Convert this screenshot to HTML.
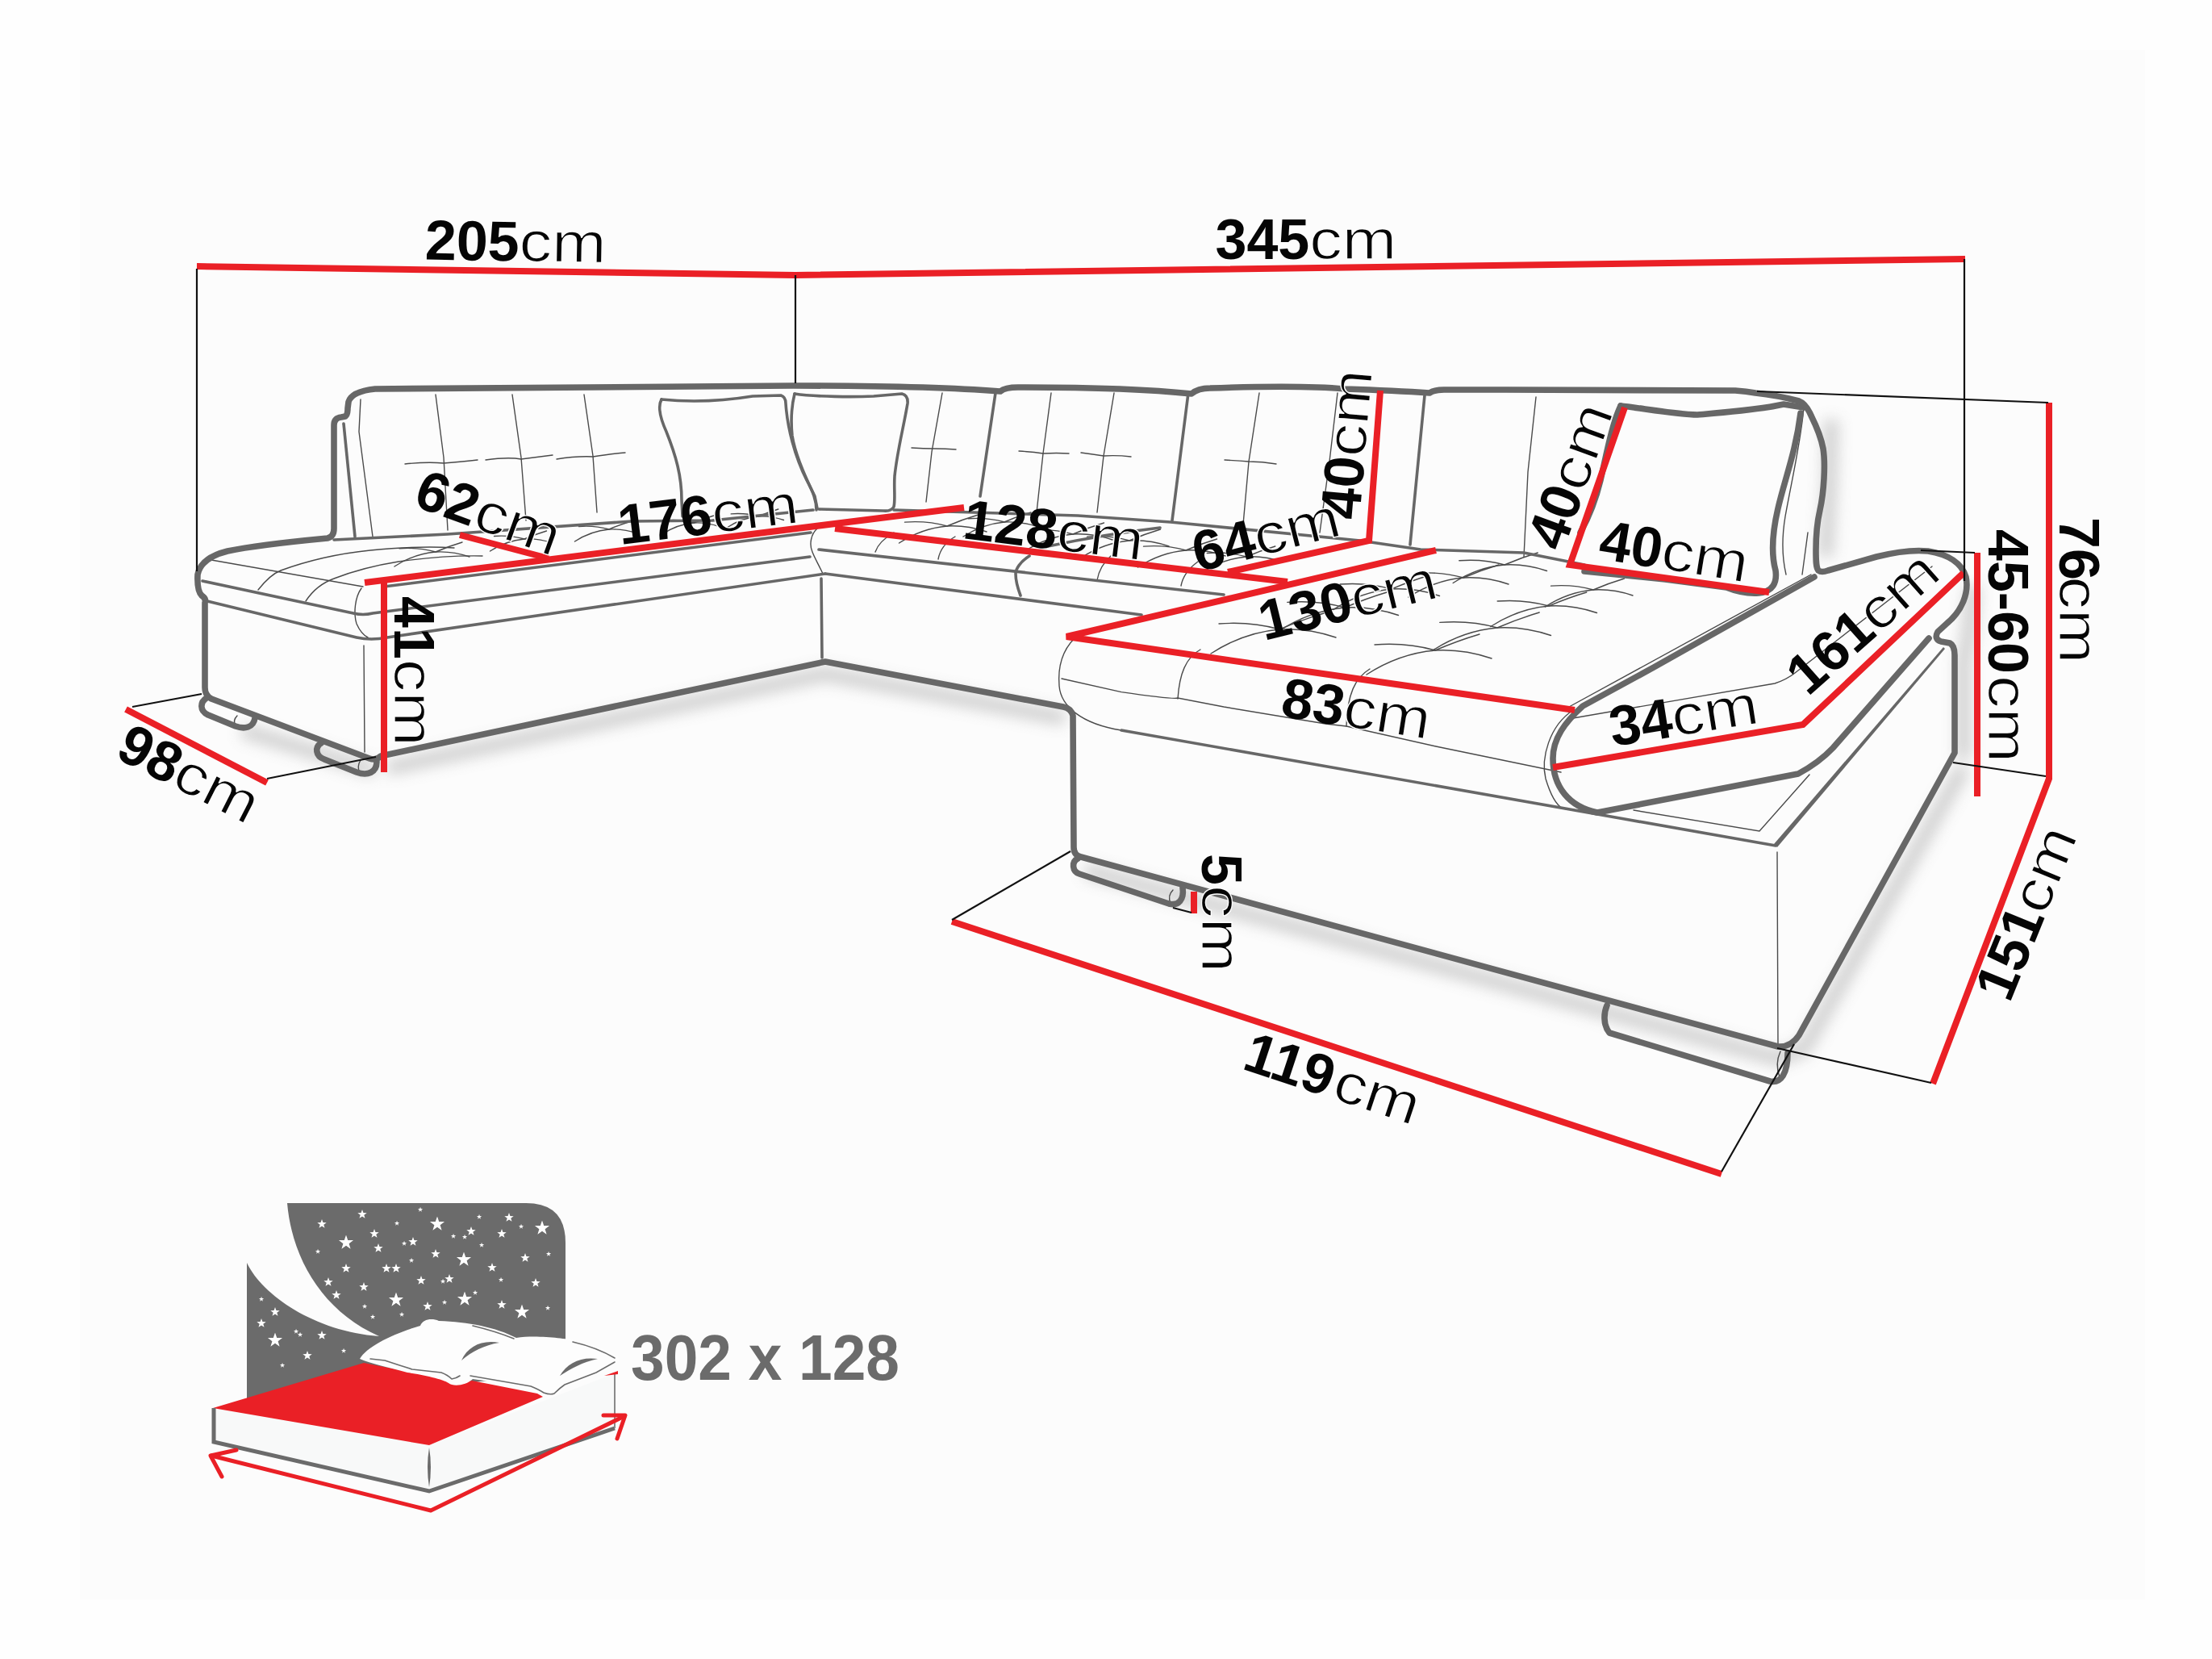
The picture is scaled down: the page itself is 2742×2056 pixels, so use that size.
<!DOCTYPE html>
<html><head><meta charset="utf-8">
<style>
html,body{margin:0;padding:0;background:#fefefe;}
svg{display:block;}
.b{font-family:"Liberation Sans",sans-serif;font-weight:bold;font-size:70px;fill:#050505;}
.r{font-family:"Liberation Sans",sans-serif;font-weight:normal;font-size:70px;fill:#050505;stroke:#fdfdfd;stroke-width:1.3px;}
</style></head>
<body>
<svg width="2742" height="2056" viewBox="0 0 2742 2056" xmlns="http://www.w3.org/2000/svg">
<defs>
<filter id="blur" x="-20%" y="-20%" width="140%" height="140%"><feGaussianBlur stdDeviation="9"/></filter>
<symbol id="st" viewBox="-10 -10 20 20"><path d="M0,-10 L2.35,-3.24 L9.51,-3.09 L3.8,1.24 L5.88,8.09 L0,4 L-5.88,8.09 L-3.8,1.24 L-9.51,-3.09 L-2.35,-3.24Z" fill="#fff"/></symbol>
</defs>
<rect x="0" y="0" width="2742" height="2056" fill="#fefefe"/>
<rect x="99" y="62" width="2560" height="1920" fill="#fcfcfc"/>
<g id="shadows" fill="none" stroke="#9a9a9a" stroke-width="18" opacity="0.45" filter="url(#blur)">
<path d="M480,952 L1023,835 L1320,890"/>
<path d="M1345,1078 L2204,1312 L2236,1300 L2434,951"/>
<path d="M2270,520 L2268,600 L2263,690 M2446,725 L2440,790 L2434,820 L2434,940"/>
<path d="M300,905 L465,955"/>
</g>
<g id="thin" fill="none" stroke="#4a4a4a" stroke-width="1.4" stroke-linecap="round">
<path d="M447,495 L445,535 L462,665"/>
<path d="M540,489 L550,567 L555,657"/>
<path d="M635,489 L646,567 L652,645"/>
<path d="M724,489 L735,565 L740,635"/>
<path d="M502,575 Q530,572 550,574 Q575,572 592,570"/>
<path d="M602,570 Q630,566 646,569 Q670,566 685,564"/>
<path d="M690,569 Q715,565 735,566 Q760,562 775,561"/>
<path d="M262,694 L450,727"/>
<path d="M1168,487 L1155,560 L1148,622"/>
<path d="M1303,487 L1293,562 L1285,635"/>
<path d="M1130,555 Q1145,556 1158,556 Q1172,556 1185,557"/>
<path d="M1263,559 Q1280,560 1293,562 Q1310,561 1325,562"/>
<path d="M1381,487 L1368,565 L1360,635"/>
<path d="M1561,487 L1548,572 L1541,650"/>
<path d="M1658,487 L1648,572 L1636,660"/>
<path d="M1340,561 Q1355,563 1368,565 Q1385,564 1402,566"/>
<path d="M1518,570 Q1535,571 1548,572 Q1565,572 1582,575"/>
<path d="M1904,492 L1894,585 L1889,690"/>
<path d="M1332,791 C1318,805 1311,825 1313,850 C1315,875 1340,897 1390,905"/>
<path d="M1316,841 L1390,857.6 Q1455,867 1460,865 L1517,876 L1643,897 L1669,900 L1780,925 L1935,957"/>
<path d="M1488,805 C1470,815 1462,835 1460,866"/>
<path d="M1698,829 C1680,840 1670,860 1669,900"/>
<path d="M2203,1056 L2204,1295"/>
<path d="M451,800 L452,932"/>
<path d="M294,887 Q288,893 292,900"/>
<path d="M447,942 Q442,950 446,958"/>
<path d="M1454,1103 Q1447,1110 1451,1119"/>
<path d="M2207,1303 Q2200,1318 2206,1335"/>
<path d="M2245,712 L1945,876"/>
<path d="M1950,890 L2200,847 Q2215,842 2225,834 L2395,702"/>
<path d="M2025,1004 L2181,1030 L2243,960"/>
<path d="M1950,880 C1920,900 1910,940 1916,965 C1922,985 1930,998 1937,1002 L1982,1007"/>
<path d="M2236,505 C2232,550 2220,600 2213,640 C2208,670 2210,695 2214,712"/>
<path d="M2241,660 L2234,712"/>
<path d="M320,731 Q335,712 348,707 Q400,688 459,682 Q520,676 563,679"/>
<path d="M379,745 Q392,725 414,717 Q450,703 494,696 Q550,688 598,689"/>
<path d="M448,729 C440,740 438,760 442,773 C446,782 450,787 456,790"/>
<path d="M1108,660 C1096,667 1088,675 1085,684"/>
<path d="M1184,665 C1172,672 1165,682 1163,693"/>
<path d="M1377,689 C1368,697 1362,707 1360,719"/>
<path d="M1485,696 C1474,704 1466,715 1464,726"/>
<path d="M1013,655 C1005,662 1003,675 1007,684 C1010,692 1015,700 1020,711"/>
<path d="M1511.0,773.0 Q1551.0,770.0 1586,780 Q1621.0,778.0 1656.0,790.0"/><path d="M1501.0,810.0 Q1541.0,784.0 1586,780 Q1614.0,768.0 1641.0,760.0"/>
<path d="M1595.8,746.4 Q1633.8,743.5 1667,753 Q1700.2,751.1 1733.5,762.5"/><path d="M1586.2,781.5 Q1624.2,756.8 1667,753 Q1693.6,741.6 1719.2,734.0"/>
<path d="M1661.2,724.0 Q1695.2,721.5 1725,730 Q1754.8,728.3 1784.5,738.5"/><path d="M1652.8,755.5 Q1686.8,733.4 1725,730 Q1748.8,719.8 1771.8,713.0"/>
<path d="M1754.0,710.4 Q1786.0,708.0 1814,716 Q1842.0,714.4 1870.0,724.0"/><path d="M1746.0,740.0 Q1778.0,719.2 1814,716 Q1836.4,706.4 1858.0,700.0"/>
<path d="M1808.8,694.8 Q1838.8,692.5 1865,700 Q1891.2,698.5 1917.5,707.5"/><path d="M1801.2,722.5 Q1831.2,703.0 1865,700 Q1886.0,691.0 1906.2,685.0"/>
<path d="M1704.0,799.0 Q1744.0,796.0 1779,806 Q1814.0,804.0 1849.0,816.0"/><path d="M1694.0,836.0 Q1734.0,810.0 1779,806 Q1807.0,794.0 1834.0,786.0"/>
<path d="M1784.8,771.4 Q1822.8,768.5 1856,778 Q1889.2,776.1 1922.5,787.5"/><path d="M1775.2,806.5 Q1813.2,781.8 1856,778 Q1882.6,766.6 1908.2,759.0"/>
<path d="M1856.2,745.0 Q1890.2,742.5 1920,751 Q1949.8,749.3 1979.5,759.5"/><path d="M1847.8,776.5 Q1881.8,754.4 1920,751 Q1943.8,740.8 1966.8,734.0"/>
<path d="M1922.5,726.1 Q1950.5,724.0 1975,731 Q1999.5,729.6 2024.0,738.0"/><path d="M1915.5,752.0 Q1943.5,733.8 1975,731 Q1994.6,722.6 2013.5,717.0"/>
<path d="M1121.5,647.1 Q1149.5,645.0 1174,652 Q1198.5,650.6 1223.0,659.0"/><path d="M1114.5,673.0 Q1142.5,654.8 1174,652 Q1193.6,643.6 1212.5,638.0"/>
<path d="M1200.0,642.8 Q1224.0,641.0 1245,647 Q1266.0,645.8 1287.0,653.0"/><path d="M1194.0,665.0 Q1218.0,649.4 1245,647 Q1261.8,639.8 1278.0,635.0"/>
<path d="M1277.5,657.1 Q1305.5,655.0 1330,662 Q1354.5,660.6 1379.0,669.0"/><path d="M1270.5,683.0 Q1298.5,664.8 1330,662 Q1349.6,653.6 1368.5,648.0"/>
<path d="M1347.5,665.1 Q1375.5,663.0 1400,670 Q1424.5,668.6 1449.0,677.0"/><path d="M1340.5,691.0 Q1368.5,672.8 1400,670 Q1419.6,661.6 1438.5,656.0"/>
<path d="M1417.5,677.1 Q1445.5,675.0 1470,682 Q1494.5,680.6 1519.0,689.0"/><path d="M1410.5,703.0 Q1438.5,684.8 1470,682 Q1489.6,673.6 1508.5,668.0"/>
<path d="M1496.2,685.5 Q1522.2,683.5 1545,690 Q1567.8,688.7 1590.5,696.5"/><path d="M1489.8,709.5 Q1515.8,692.6 1545,690 Q1563.2,682.2 1580.8,677.0"/>
<path d="M495.0,679.8 Q519.0,678.0 540,684 Q561.0,682.8 582.0,690.0"/><path d="M489.0,702.0 Q513.0,686.4 540,684 Q556.8,676.8 573.0,672.0"/>
<path d="M612.5,664.5 Q632.5,663.0 650,668 Q667.5,667.0 685.0,673.0"/><path d="M607.5,683.0 Q627.5,670.0 650,668 Q664.0,662.0 677.5,658.0"/>
<path d="M717.5,652.5 Q737.5,651.0 755,656 Q772.5,655.0 790.0,661.0"/><path d="M712.5,671.0 Q732.5,658.0 755,656 Q769.0,650.0 782.5,646.0"/>
<path d="M826.2,644.9 Q844.2,643.5 860,648 Q875.8,647.1 891.5,652.5"/><path d="M821.8,661.5 Q839.8,649.8 860,648 Q872.6,642.6 884.8,639.0"/>
<path d="M906.2,636.9 Q924.2,635.5 940,640 Q955.8,639.1 971.5,644.5"/><path d="M901.8,653.5 Q919.8,641.8 940,640 Q952.6,634.6 964.8,631.0"/>
</g>
<g id="med" fill="none" stroke="#676767" stroke-width="3.6" stroke-linecap="round" stroke-linejoin="round">
<path d="M251,720 L438,760 Q450,763 462,760 L1004,690"/>
<path d="M257,745 L442,790 Q460,794 480,790 L1023,711"/>
<path d="M1015,681 L1517,737"/>
<path d="M1023,711 L1415,762"/>
<path d="M1018,717 L1019,815"/>
<path d="M476,727 L1005,660"/>
<path d="M820,495 C850,498 890,498 933,491 L968,490 Q974,492 974,500 C976,530 985,565 1000,595 C1008,610 1012,620 1012,632"/>
<path d="M820,495 C816,502 817,515 826,535 C838,565 845,590 845,620 L846,640"/>
<path d="M985,488 C1010,492 1060,492 1083,491 L1118,488 Q1126,490 1125,500 C1120,530 1112,560 1109,590 C1108,605 1110,620 1108,628 Q1105,634 1095,633 L1015,631"/>
<path d="M985,488 C982,500 980,520 982,540 C986,565 1000,595 1010,615 L1013,630"/>
<path d="M1390,905 L2201,1048"/>
<path d="M1234,487 L1215,615"/>
<path d="M1473,487 L1453,645"/>
<path d="M1766,490 L1748,675"/>
<path d="M426,525 L440,665"/>
<path d="M414,669 L555,662 L783,646 L883,645 L1008,632"/>
<path d="M1108,632 L1336,639 L1451,647 L1686,670 L1761,681 L1889,685 L1964,700"/>
<path d="M1299,677 Q1370,662 1438,654"/>
<path d="M1276,689 C1265,696 1259,705 1259,711 C1259,722 1262,730 1265,738"/>
</g>
<g id="thick" fill="none" stroke="#676767" stroke-width="7.6" stroke-linecap="round" stroke-linejoin="round">
<path d="M2009,503 C2030,505 2080,514 2104,514 C2140,511 2180,508 2211,501 L2236,505"/>
<path d="M2232,512 C2226,560 2212,595 2204,630 C2197,660 2195,685 2201,707 C2203,722 2198,733 2180,735 C2165,736 2150,732 2140,728 L2064,718 L1964,708"/>
<path d="M2009,503 C1998,525 1990,570 1984,595 C1978,620 1970,640 1959,660"/>
<path d="M2249,715 L2050,827 L1962,875 C1940,895 1925,915 1925,940 C1925,975 1945,1000 1980,1007 L2229,959 Q2255,945 2272,927 L2391,791"/>
<path d="M245,712 C248,697 262,688 282,683 C320,675 385,669 406,667 Q414,665 414,655 L414,527 Q414,518 423,517 L428,516 Q431,514 431,506 L432,498 Q436,485 465,482 L983,478 Q1150,478 1240,485 Q1246,480 1262,480 Q1400,480 1477,488 Q1485,481 1500,481 Q1613,477 1667,482 Q1730,484 1772,487 Q1778,483 1790,483 L1866,483 L2151,484 Q2165,485 2176,487 C2195,489 2215,493 2230,497 C2238,500 2242,508 2245,515 C2250,525 2257,540 2260,556 C2263,575 2261,610 2256,632 C2253,645 2251,665 2251,682 C2251,695 2251,703 2254,707 Q2258,710 2266,707 L2326,690 C2350,684 2370,681 2390,683 C2415,687 2432,698 2437,715 C2441,735 2432,757 2414,772 L2402,783 Q2397,792 2406,795 L2417,797 Q2423,800 2423,812 L2423,933 L2230,1283 Q2220,1298 2204,1297 L1340,1062 Q1331,1060 1331,1050 L1330,887 Q1328,878 1318,876 L1023,820 L472,937 Q466,943 458,940 L262,866 Q254,862 254,852 L254,747 Q256,742 250,738 Q244,732 245,712 Z"/>
<path d="M256,865 C248,870 247,881 258,886 L292,900 C303,904 314,902 316,890"/>
<path d="M398,921 C390,926 391,937 402,941 L442,957 C456,962 467,957 467,944"/>
<path d="M1336,1064 C1328,1068 1329,1080 1338,1083 L1449,1120 C1461,1123 1468,1115 1466,1100"/>
<path d="M1992,1246 C1988,1255 1987,1270 1995,1280 L2194,1340 C2208,1343 2216,1330 2216,1305"/>
</g>
<path d="M2409,802 L2411,804 L2203,1050 L2199,1046 Z" fill="#676767"/>
<g id="red" fill="none" stroke="#ea2026" stroke-width="8" stroke-linejoin="miter">
<path d="M244,330 L986,341 L2436,321"/>
<path d="M476,717 L476,957"/>
<path d="M452,722 L1195,629"/>
<path d="M570,663 L680,692"/>
<path d="M1035,655 L1596,721"/>
<path d="M1522,709 L1697,670 L1711,484"/>
<path d="M1780,682 L1322,789 L1952,880"/>
<path d="M2014,505 L1946,700 L2193,734"/>
<path d="M1925,951 L2235,898 L2434,710"/>
<path d="M2451,685 L2451,987"/>
<path d="M2540,499 L2540,965 L2396,1343"/>
<path d="M1180,1142 L2134,1455"/>
<path d="M1480,1105 L1480,1132"/>
<path d="M156,879 L331,970"/>
</g>
<g id="blk" fill="none" stroke="#111" stroke-width="2.2">
<path d="M244,333 L244,708"/>
<path d="M986,341 L986,475"/>
<path d="M2435,321 L2435,720"/>
<path d="M2178,485 L2539,499"/>
<path d="M2381,682 L2448,685"/>
<path d="M2421,945 L2536,962"/>
<path d="M2203,1299 L2394,1342"/>
<path d="M2224,1294 L2134,1452"/>
<path d="M1180,1140 L1327,1055"/>
<path d="M1454,1125 L1477,1131"/>
<path d="M164,876 L250,860"/>
<path d="M331,965 L466,938"/>
</g>
<g id="txt">
<g transform="translate(526.5,321.5) rotate(1.0)"><text class="b" x="0" y="0">205</text><text class="r" x="116.7" y="0" textLength="108" lengthAdjust="spacingAndGlyphs">cm</text></g>
<g transform="translate(1506.5,321.0) rotate(0.0)"><text class="b" x="0" y="0">345</text><text class="r" x="116.7" y="0" textLength="108" lengthAdjust="spacingAndGlyphs">cm</text></g>
<g transform="translate(510.4,626.3) rotate(20.0)"><text class="b" x="0" y="0">62</text><text class="r" x="77.8" y="0" textLength="108" lengthAdjust="spacingAndGlyphs">cm</text></g>
<g transform="translate(769,675) rotate(-7.0)"><text class="b" x="0" y="0">176</text><text class="r" x="116.7" y="0" textLength="108" lengthAdjust="spacingAndGlyphs">cm</text></g>
<g transform="translate(1192,667) rotate(7.0)"><text class="b" x="0" y="0">128</text><text class="r" x="116.7" y="0" textLength="108" lengthAdjust="spacingAndGlyphs">cm</text></g>
<g transform="translate(1485,709) rotate(-14.3)"><text class="b" x="0" y="0">64</text><text class="r" x="77.8" y="0" textLength="108" lengthAdjust="spacingAndGlyphs">cm</text></g>
<g transform="translate(1685,645) rotate(-85.0)"><text class="b" x="0" y="0">40</text><text class="r" x="77.8" y="0" textLength="108" lengthAdjust="spacingAndGlyphs">cm</text></g>
<g transform="translate(1937,685) rotate(-70.0)"><text class="b" x="0" y="0">40</text><text class="r" x="77.8" y="0" textLength="108" lengthAdjust="spacingAndGlyphs">cm</text></g>
<g transform="translate(1980,692) rotate(9.3)"><text class="b" x="0" y="0">40</text><text class="r" x="77.8" y="0" textLength="108" lengthAdjust="spacingAndGlyphs">cm</text></g>
<g transform="translate(1567,794) rotate(-13.8)"><text class="b" x="0" y="0">130</text><text class="r" x="116.7" y="0" textLength="108" lengthAdjust="spacingAndGlyphs">cm</text></g>
<g transform="translate(1586,887.5) rotate(8.9)"><text class="b" x="0" y="0">83</text><text class="r" x="77.8" y="0" textLength="108" lengthAdjust="spacingAndGlyphs">cm</text></g>
<g transform="translate(1999,925) rotate(-9.0)"><text class="b" x="0" y="0">34</text><text class="r" x="77.8" y="0" textLength="108" lengthAdjust="spacingAndGlyphs">cm</text></g>
<g transform="translate(2241,864) rotate(-41.7)"><text class="b" x="0" y="0">161</text><text class="r" x="116.7" y="0" textLength="108" lengthAdjust="spacingAndGlyphs">cm</text></g>
<g transform="translate(2464.6,656) rotate(90)"><text class="b" x="0" y="0">45-60</text><text class="r" x="181.0" y="0" textLength="108" lengthAdjust="spacingAndGlyphs">cm</text></g>
<g transform="translate(2552.7,641) rotate(90)"><text class="b" x="0" y="0">76</text><text class="r" x="73.3" y="0" textLength="108" lengthAdjust="spacingAndGlyphs">cm</text></g>
<g transform="translate(489,739) rotate(90)"><text class="b" x="0" y="0">41</text><text class="r" x="77.8" y="0" textLength="108" lengthAdjust="spacingAndGlyphs">cm</text></g>
<g transform="translate(141,938) rotate(27.0)"><text class="b" x="0" y="0">98</text><text class="r" x="77.8" y="0" textLength="108" lengthAdjust="spacingAndGlyphs">cm</text></g>
<g transform="translate(1490,1058) rotate(90)"><text class="b" x="0" y="0">5</text><text class="r" x="38.9" y="0" textLength="108" lengthAdjust="spacingAndGlyphs">cm</text></g>
<g transform="translate(1538,1324) rotate(18.4)"><text class="b" x="0" y="0">119</text><text class="r" x="116.7" y="0" textLength="108" lengthAdjust="spacingAndGlyphs">cm</text></g>
<g transform="translate(2491,1244) rotate(-67.8)"><text class="b" x="0" y="0">151</text><text class="r" x="116.7" y="0" textLength="108" lengthAdjust="spacingAndGlyphs">cm</text></g>
</g>
<g id="bed">
<path d="M356,1491 L652,1491 Q701,1491 701,1540 L701,1700 L306,1745 L306,1565 C325,1605 390,1650 470,1656 C400,1625 362,1560 356,1491 Z" fill="#6b6b6b"/>
<use href="#st" x="532.5" y="1507.5" width="19" height="19"/>
<use href="#st" x="419.5" y="1530.5" width="19" height="19"/>
<use href="#st" x="662.5" y="1512.5" width="19" height="19"/>
<use href="#st" x="565.5" y="1551.5" width="19" height="19"/>
<use href="#st" x="481.5" y="1601.5" width="19" height="19"/>
<use href="#st" x="566.5" y="1600.5" width="19" height="19"/>
<use href="#st" x="637.5" y="1616.5" width="19" height="19"/>
<use href="#st" x="331.5" y="1651.5" width="19" height="19"/>
<use href="#st" x="443.0" y="1499.0" width="12" height="12"/>
<use href="#st" x="393.0" y="1511.0" width="12" height="12"/>
<use href="#st" x="458.0" y="1523.0" width="12" height="12"/>
<use href="#st" x="578.0" y="1520.0" width="12" height="12"/>
<use href="#st" x="616.0" y="1523.0" width="12" height="12"/>
<use href="#st" x="625.0" y="1503.0" width="12" height="12"/>
<use href="#st" x="506.0" y="1533.0" width="12" height="12"/>
<use href="#st" x="463.0" y="1541.0" width="12" height="12"/>
<use href="#st" x="534.0" y="1548.0" width="12" height="12"/>
<use href="#st" x="645.0" y="1553.0" width="12" height="12"/>
<use href="#st" x="423.0" y="1566.0" width="12" height="12"/>
<use href="#st" x="473.0" y="1566.0" width="12" height="12"/>
<use href="#st" x="485.0" y="1566.0" width="12" height="12"/>
<use href="#st" x="604.0" y="1565.0" width="12" height="12"/>
<use href="#st" x="401.0" y="1583.0" width="12" height="12"/>
<use href="#st" x="445.0" y="1589.0" width="12" height="12"/>
<use href="#st" x="516.0" y="1581.0" width="12" height="12"/>
<use href="#st" x="551.0" y="1579.0" width="12" height="12"/>
<use href="#st" x="658.0" y="1584.0" width="12" height="12"/>
<use href="#st" x="411.0" y="1599.0" width="12" height="12"/>
<use href="#st" x="524.0" y="1613.0" width="12" height="12"/>
<use href="#st" x="616.0" y="1611.0" width="12" height="12"/>
<use href="#st" x="335.0" y="1620.0" width="12" height="12"/>
<use href="#st" x="318.0" y="1634.0" width="12" height="12"/>
<use href="#st" x="393.0" y="1649.0" width="12" height="12"/>
<use href="#st" x="375.0" y="1674.0" width="12" height="12"/>
<use href="#st" x="517.8" y="1495.8" width="6.5" height="6.5"/>
<use href="#st" x="488.8" y="1512.8" width="6.5" height="6.5"/>
<use href="#st" x="590.8" y="1504.8" width="6.5" height="6.5"/>
<use href="#st" x="642.8" y="1516.8" width="6.5" height="6.5"/>
<use href="#st" x="390.8" y="1547.8" width="6.5" height="6.5"/>
<use href="#st" x="497.8" y="1537.8" width="6.5" height="6.5"/>
<use href="#st" x="558.8" y="1528.8" width="6.5" height="6.5"/>
<use href="#st" x="572.8" y="1529.8" width="6.5" height="6.5"/>
<use href="#st" x="593.8" y="1539.8" width="6.5" height="6.5"/>
<use href="#st" x="676.8" y="1550.8" width="6.5" height="6.5"/>
<use href="#st" x="506.8" y="1558.8" width="6.5" height="6.5"/>
<use href="#st" x="545.8" y="1584.8" width="6.5" height="6.5"/>
<use href="#st" x="617.8" y="1582.8" width="6.5" height="6.5"/>
<use href="#st" x="585.8" y="1598.8" width="6.5" height="6.5"/>
<use href="#st" x="448.8" y="1615.8" width="6.5" height="6.5"/>
<use href="#st" x="547.8" y="1610.8" width="6.5" height="6.5"/>
<use href="#st" x="675.8" y="1617.8" width="6.5" height="6.5"/>
<use href="#st" x="458.8" y="1628.8" width="6.5" height="6.5"/>
<use href="#st" x="494.8" y="1625.8" width="6.5" height="6.5"/>
<use href="#st" x="320.8" y="1606.8" width="6.5" height="6.5"/>
<use href="#st" x="363.8" y="1646.8" width="6.5" height="6.5"/>
<use href="#st" x="368.8" y="1650.8" width="6.5" height="6.5"/>
<use href="#st" x="422.8" y="1670.8" width="6.5" height="6.5"/>
<use href="#st" x="346.8" y="1688.8" width="6.5" height="6.5"/>
<path d="M264,1745 L532,1791 L532,1846 L265,1786 Z" fill="#f8f9f9"/>
<path d="M532,1791 L762,1702 L762,1770 L532,1846 Z" fill="#f8f9f9"/>
<path d="M264,1745 L451,1689 L547,1708 L560,1714 L572,1713 L585,1711 L666,1727 L673,1731 L532,1791 Z" fill="#ea2026"/>
<path d="M265,1745 L265,1787 L532,1848 L762,1770" fill="none" stroke="#6b6b6b" stroke-width="5"/>
<path d="M762,1702 L762,1770" fill="none" stroke="#8a8a8a" stroke-width="2"/>
<path d="M532,1794 Q536,1818 532,1843 Q528,1818 532,1794 Z" fill="#6b6b6b"/>
<path d="M446,1684 C455,1668 490,1652 521,1643 C524,1635 535,1633 544,1637 C580,1638 615,1645 640,1658 C665,1654 700,1659 712,1661 C740,1668 760,1676 768,1684 C765,1692 745,1700 740,1702 C715,1712 703,1716 698,1723 C690,1731 678,1731 672,1727 C660,1722 640,1718 620,1714 L586,1709 C578,1717 562,1719 556,1714 C550,1709 520,1703 505,1701 C480,1694 460,1690 446,1684 Z" fill="#fdfdfd"/>
<g fill="none" stroke="#6b6b6b" stroke-width="1.6" stroke-linecap="round">
<path d="M459,1684 L477,1686 Q495,1692 511,1697 L547,1701 Q555,1704 560,1709 Q566,1708 570,1705"/>
<path d="M583,1705 L658,1718 Q668,1722 674,1726 Q682,1729 687,1727 Q694,1720 700,1716 L739,1701 L762,1688"/>
<path d="M586,1643 Q615,1650 637,1659"/>
<path d="M710,1663 Q740,1670 762,1683"/>
</g>
<path d="M749,1705 L766,1699 L766,1703 Z" fill="#ea2026"/>
<path d="M572,1686 C580,1668 598,1660 619,1664 C600,1667 585,1675 572,1686 Z" fill="#6b6b6b"/>
<path d="M694,1705 C703,1689 720,1681 741,1684 C722,1688 708,1696 694,1705 Z" fill="#6b6b6b"/>
<g fill="none" stroke="#ea2026" stroke-width="5" stroke-linecap="round" stroke-linejoin="round">
<path d="M262,1804 L534,1872 L774,1755"/>
<path d="M293,1797 L261,1804 L275,1830"/>
<path d="M748,1754 L775,1754 L765,1783"/>
</g>
<text x="782" y="1710" textLength="333" lengthAdjust="spacingAndGlyphs" style="font-family:'Liberation Sans',sans-serif;font-weight:bold;font-size:80px;fill:#6b6b6b">302 x 128</text>
</g>
</svg>
</body></html>
